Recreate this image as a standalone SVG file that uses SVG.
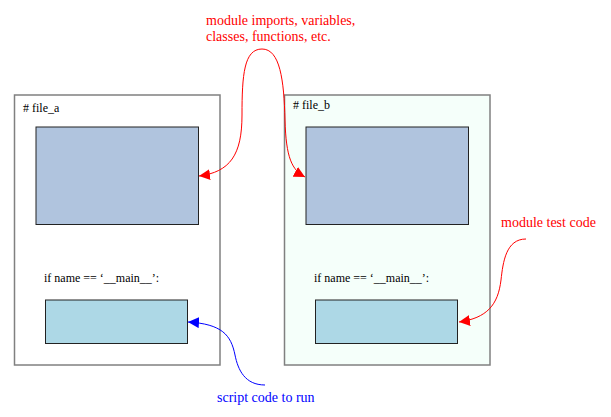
<svg xmlns="http://www.w3.org/2000/svg" width="611" height="417" viewBox="0 0 611 417">
<style>
.file{stroke:#808080;stroke-width:1.5}
.top{fill:#B0C4DE;stroke:#222;stroke-width:1}
.bot{fill:#ADD8E6;stroke:#222;stroke-width:1}
.code{font-family:"Liberation Serif",serif;font-size:12px;fill:#000}
.lbl{font-family:"Liberation Serif",serif;font-size:14px}
.red{fill:red}
.blue{fill:blue}
.cr{fill:none;stroke:red;stroke-width:1}
.cb{fill:none;stroke:blue;stroke-width:1}
</style>
<defs>
<marker id="ar" viewBox="0 0 10 10" refX="10" refY="5" markerWidth="11" markerHeight="11" markerUnits="userSpaceOnUse" orient="auto"><path d="M0 0L10 5L0 10z" fill="red"/></marker>
<marker id="ab" viewBox="0 0 10 10" refX="10" refY="5" markerWidth="11" markerHeight="11" markerUnits="userSpaceOnUse" orient="auto"><path d="M0 0L10 5L0 10z" fill="blue"/></marker>
</defs>
<rect width="611" height="417" fill="#fff"/>
<g id="file_a">
<rect class="file" x="14.5" y="95" width="205.5" height="270" fill="#fff"/>
<text class="code" x="23" y="112">#&#160;file_a</text>
<rect id="a_top" class="top" x="36" y="127" width="162.5" height="97.5"/>
<text class="code" x="44" y="282">if name == ‘__main__’:</text>
<rect id="a_bot" class="bot" x="45.5" y="300" width="142" height="43.5"/>
</g>
<g id="file_b">
<rect class="file" x="284.5" y="95" width="205.5" height="270" fill="#F5FFFA"/>
<text class="code" x="293" y="109">#&#160;file_b</text>
<rect id="b_top" class="top" x="306" y="127" width="162.5" height="97.5"/>
<text class="code" x="314" y="282">if name == ‘__main__’:</text>
<rect id="b_bot" class="bot" x="315.5" y="300" width="142" height="43.5"/>
</g>
<g id="labels">
<text class="lbl red" x="206" y="25">module imports, variables,</text>
<text class="lbl red" x="206" y="41">classes, functions, etc.</text>
<text class="lbl red" x="501" y="227">module test code</text>
<text class="lbl blue" x="217" y="402">script code to run</text>
</g>
<g id="connectors">
<path class="cr" d="M262 49C244 49 242 75 242 115C242 155 230 172 199 176" marker-end="url(#ar)"/>
<path class="cr" d="M262 49C280 49 284 80 285 120C286 158 292 170 305 177" marker-end="url(#ar)"/>
<path class="cr" d="M526 239C506 239 503 262 501 280C498 305 487 318 459 322" marker-end="url(#ar)"/>
<path class="cb" d="M265 385C245 385 238 370 235 355C231 335 222 324 188 322" marker-end="url(#ab)"/>
</g>
</svg>
